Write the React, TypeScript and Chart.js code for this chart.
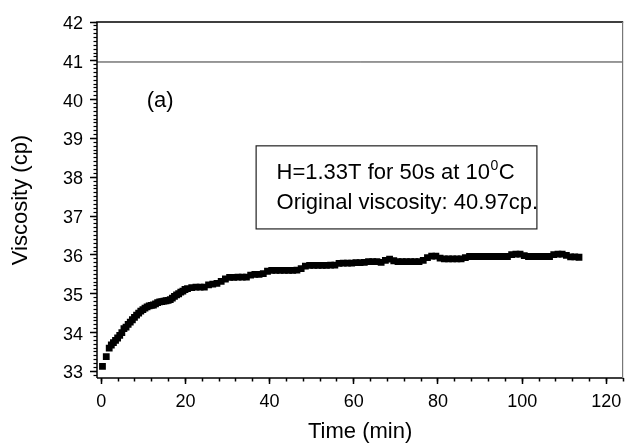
import React, { useEffect, useRef } from "react";
import { Chart, registerables } from "chart.js";

Chart.register(...registerables);

// ---- data ----
const timeMin: number[] = [
  0.3, 1.2, 1.9, 2.4, 2.9, 3.4, 3.9, 4.4, 4.9, 5.4,
  5.9, 6.4, 6.9, 7.4, 7.9, 8.4, 8.9, 9.4, 9.9, 10.4,
  10.9, 11.4, 11.9, 12.4, 12.9, 13.4, 13.9, 14.4, 14.9, 15.4,
  15.9, 16.4, 16.9, 17.4, 17.9, 18.4, 18.9, 19.4, 19.9,
  20.5, 21.5, 22.5, 23.5, 24.5, 25.5, 26.5, 27.5, 28.5, 29.5,
  30.5, 31.5, 32.5, 33.5, 34.5, 35.5, 36.5, 37.5, 38.5, 39.5,
  40.5, 41.5, 42.5, 43.5, 44.5, 45.5, 46.5, 47.5, 48.5, 49.5,
  50.5, 51.5, 52.5, 53.5, 54.5, 55.5, 56.5, 57.5, 58.5, 59.5,
  60.5, 61.5, 62.5, 63.5, 64.5, 65.5, 66.5, 67.5, 68.5, 69.5,
  70.5, 71.5, 72.5, 73.5, 74.5, 75.5, 76.5, 77.5, 78.5, 79.5,
  80.5, 81.5, 82.5, 83.5, 84.5, 85.5, 86.5, 87.5, 88.5, 89.5,
  90.5, 91.5, 92.5, 93.5, 94.5, 95.5, 96.5, 97.5, 98.5, 99.5,
  100.5, 101.5, 102.5, 103.5, 104.5, 105.5, 106.5, 107.5, 108.5, 109.5,
  110.5, 111.5, 112.5, 113.5,
];

const viscosityCp: number[] = [
  33.13, 33.38, 33.60, 33.68, 33.74, 33.80, 33.86, 33.93, 34.00, 34.10,
  34.14, 34.21, 34.27, 34.33, 34.39, 34.45, 34.50, 34.55, 34.59, 34.63,
  34.66, 34.69, 34.70, 34.71, 34.74, 34.77, 34.79, 34.80, 34.81, 34.82,
  34.83, 34.85, 34.89, 34.93, 34.97, 35.00, 35.04, 35.07, 35.11,
  35.13, 35.16, 35.17, 35.17, 35.17, 35.23, 35.25, 35.27, 35.32, 35.38,
  35.42, 35.42, 35.43, 35.43, 35.43, 35.48, 35.50, 35.50, 35.52, 35.58,
  35.60, 35.60, 35.60, 35.60, 35.60, 35.60, 35.61, 35.65, 35.71, 35.73,
  35.73, 35.73, 35.73, 35.73, 35.74, 35.74, 35.78, 35.79, 35.79, 35.79,
  35.80, 35.80, 35.81, 35.83, 35.83, 35.83, 35.81, 35.86, 35.89, 35.85,
  35.83, 35.83, 35.83, 35.83, 35.83, 35.83, 35.86, 35.93, 35.97, 35.97,
  35.92, 35.90, 35.90, 35.90, 35.90, 35.90, 35.93, 35.96, 35.96, 35.96,
  35.96, 35.96, 35.96, 35.96, 35.96, 35.96, 35.96, 36.01, 36.02, 36.02,
  35.98, 35.96, 35.96, 35.96, 35.96, 35.96, 35.96, 36.01, 36.02, 36.02,
  35.99, 35.95, 35.95, 35.94,
];

const originalViscosity = 40.97;
const refLineX: number[] = [-1, 124];

const xRange: number[] = [-1, 124];
const yRange: number[] = [32.83, 42];
const xMajorStep = 20;
const xMinorStep = 4;
const yMajorStep = 1;
const yMinorStep = 0.1;

const xTitle = "Time (min)";
const yTitle = "Viscosity (cp)";
const panelLabel = "(a)";
const noteLine1Main = "H=1.33T for 50s at 10";
const noteLine1Sup = "0";
const noteLine1Tail = "C";
const noteLine2 = "Original viscosity: 40.97cp.";

// ---- annotation placement (data units) ----
const panelLabelPos = { x: 10.8, y: 39.82 };
const noteBox = { x0: 36.8, x1: 103.5, y0: 36.67, y1: 38.81 };
const noteTextX = 41.65;
const noteLineY = [37.95, 37.19];

const FONT = "'Liberation Sans', Arial, Helvetica, sans-serif";

const annotationPlugin = {
  id: "annotations",
  afterDraw(chart: any) {
    const { ctx, chartArea: a } = chart;
    const xs = chart.scales.x;
    const ys = chart.scales.y;
    ctx.save();
    // plot frame
    ctx.strokeStyle = "#000";
    ctx.lineWidth = 1.5;
    ctx.beginPath();
    ctx.moveTo(a.left, a.bottom);
    ctx.lineTo(a.left, a.top);
    ctx.lineTo(a.right, a.top);
    ctx.moveTo(a.left, a.bottom);
    ctx.lineTo(a.right, a.bottom);
    ctx.stroke();
    ctx.strokeStyle = "#777";
    ctx.lineWidth = 1.2;
    ctx.beginPath();
    ctx.moveTo(a.right - 0.6, a.top);
    ctx.lineTo(a.right - 0.6, a.bottom);
    ctx.stroke();

    // panel label
    ctx.fillStyle = "#000";
    ctx.textBaseline = "alphabetic";
    ctx.textAlign = "left";
    ctx.font = `22px ${FONT}`;
    ctx.fillText(panelLabel, xs.getPixelForValue(panelLabelPos.x), ys.getPixelForValue(panelLabelPos.y));

    // note box
    const bx0 = xs.getPixelForValue(noteBox.x0);
    const bx1 = xs.getPixelForValue(noteBox.x1);
    const by0 = ys.getPixelForValue(noteBox.y1);
    const by1 = ys.getPixelForValue(noteBox.y0);
    ctx.strokeStyle = "#222";
    ctx.lineWidth = 1.2;
    ctx.strokeRect(bx0, by0, bx1 - bx0, by1 - by0);

    const tx = xs.getPixelForValue(noteTextX);
    const l1 = ys.getPixelForValue(noteLineY[0]);
    const l2 = ys.getPixelForValue(noteLineY[1]);
    ctx.font = `22px ${FONT}`;
    ctx.fillText(noteLine1Main, tx, l1);
    let cx = tx + ctx.measureText(noteLine1Main).width;
    ctx.font = `14px ${FONT}`;
    ctx.fillText(noteLine1Sup, cx + 0.5, l1 - 9);
    cx += ctx.measureText(noteLine1Sup).width + 1;
    ctx.font = `22px ${FONT}`;
    ctx.fillText(noteLine1Tail, cx, l1);
    ctx.fillText(noteLine2, tx, l2);
    ctx.restore();
  },
};

export default function App() {
  const canvasRef = useRef<HTMLCanvasElement | null>(null);

  useEffect(() => {
    const canvas = canvasRef.current;
    if (!canvas) return;
    const points = timeMin.map((t, i) => ({ x: t, y: viscosityCp[i] }));
    const refLine = refLineX.map((x) => ({ x, y: originalViscosity }));

    const tickFont = { family: FONT, size: 18 };
    const titleFont = { family: FONT, size: 22, lineHeight: 1 };

    const chart = new Chart(canvas, {
      type: "scatter",
      data: {
        datasets: [
          {
            label: "viscosity",
            data: points,
            xAxisID: "x",
            yAxisID: "y",
            pointStyle: "rect",
            pointRadius: 4.8,
            pointBorderWidth: 0,
            pointBackgroundColor: "#000",
            pointBorderColor: "#000",
            showLine: false,
          },
          {
            label: "original",
            data: refLine,
            xAxisID: "x",
            yAxisID: "y",
            showLine: true,
            borderColor: "#333",
            borderWidth: 1,
            pointRadius: 0,
          },
        ],
      },
      options: {
        responsive: false,
        animation: false,
        devicePixelRatio: 1,
        layout: { padding: { left: 0, right: 1, top: 22, bottom: 0 } },
        plugins: {
          legend: { display: false },
          tooltip: { enabled: false },
        },
        scales: {
          x: {
            type: "linear",
            position: "bottom",
            weight: 1,
            min: xRange[0],
            max: xRange[1],
            ticks: {
              stepSize: xMajorStep,
              includeBounds: false,
              autoSkip: false,
              maxRotation: 0,
              minRotation: 0,
              padding: 7,
              color: "#000",
              font: tickFont,
            },
            grid: {
              drawOnChartArea: false,
              drawTicks: true,
              tickLength: 6,
              tickWidth: 1.5,
              tickColor: "#000",
            },
            border: { display: false },
            title: {
              display: true,
              text: xTitle,
              color: "#000",
              font: titleFont,
              padding: { top: 0, bottom: 0 },
            },
            afterFit: (s: any) => {
              s.height = 65;
              s.paddingLeft = 0;
              s.paddingRight = 0;
            },
          },
          xMinor: {
            type: "linear",
            position: "bottom",
            weight: 0,
            min: xRange[0],
            max: xRange[1],
            ticks: { display: false, stepSize: xMinorStep, includeBounds: false, autoSkip: false },
            grid: {
              drawOnChartArea: false,
              drawTicks: true,
              tickLength: 3.5,
              tickWidth: 1.5,
              tickColor: "#000",
            },
            border: { display: false },
            afterFit: (s: any) => {
              s.height = 0;
              s.paddingLeft = 0;
              s.paddingRight = 0;
            },
          },
          y: {
            type: "linear",
            position: "left",
            weight: 1,
            min: yRange[0],
            max: yRange[1],
            ticks: {
              stepSize: yMajorStep,
              includeBounds: false,
              autoSkip: false,
              padding: 7,
              labelOffset: 2,
              color: "#000",
              font: tickFont,
            },
            grid: {
              drawOnChartArea: false,
              drawTicks: true,
              tickLength: 7,
              tickWidth: 1.5,
              tickColor: "#000",
            },
            border: { display: false },
            title: {
              display: true,
              text: yTitle,
              color: "#000",
              font: titleFont,
              padding: { top: 10, bottom: 0 },
            },
            afterFit: (s: any) => {
              s.width = 97;
              s.paddingTop = 0;
              s.paddingBottom = 0;
            },
          },
          yMinor: {
            type: "linear",
            position: "left",
            weight: 0,
            min: yRange[0],
            max: yRange[1],
            ticks: { display: false, stepSize: yMinorStep, includeBounds: false, autoSkip: false },
            grid: {
              drawOnChartArea: false,
              drawTicks: true,
              tickLength: 3.5,
              tickWidth: 1.2,
              tickColor: "#000",
            },
            border: { display: false },
            afterFit: (s: any) => {
              s.width = 0;
              s.paddingTop = 0;
              s.paddingBottom = 0;
            },
          },
        },
      } as any,
      plugins: [annotationPlugin],
    });

    return () => {
      chart.destroy();
    };
  }, []);

  return (
    <div style={{ position: "absolute", left: 0, top: 0, width: 628, height: 443, background: "#fff" }}>
      <canvas ref={canvasRef} width={628} height={443} style={{ display: "block", width: 628, height: 443 }} />
    </div>
  );
}
